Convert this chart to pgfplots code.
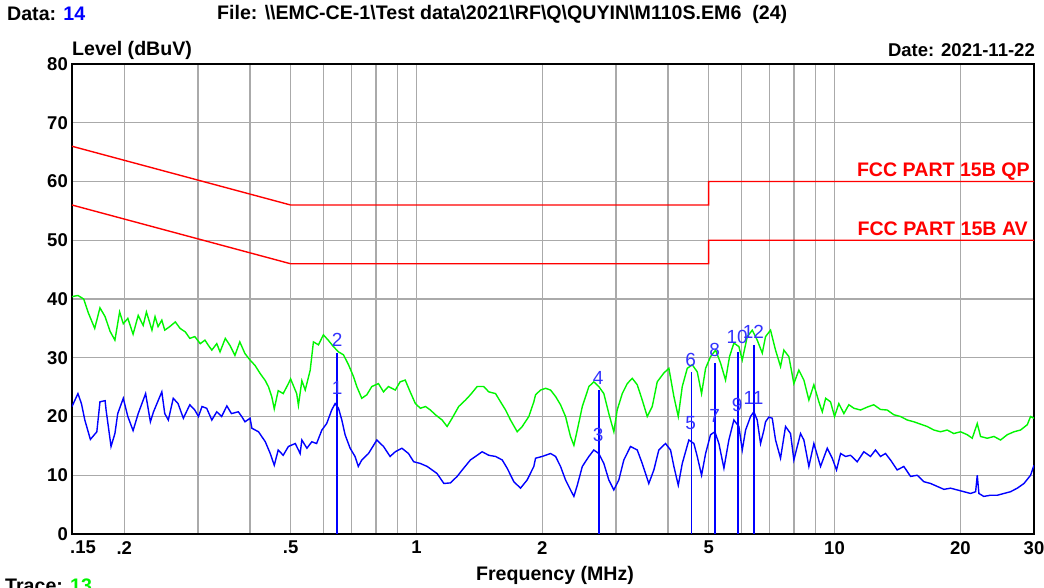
\documentclass[border=0pt]{standalone}
\usepackage{fontspec}
\setmainfont{Liberation Sans}
\usepackage{pgfplots}
\pgfplotsset{compat=1.18}
\definecolor{grn}{RGB}{0,245,0}
\definecolor{blu}{RGB}{0,0,255}
\definecolor{mk}{RGB}{50,50,255}
\definecolor{gridc}{RGB}{170,170,170}
\definecolor{lim}{RGB}{255,0,0}
\newcommand{\hdrfont}{\fontsize{19.6}{21}\selectfont\bfseries}
\newcommand{\tckfont}{\fontsize{18.5}{20}\selectfont\bfseries}

\begin{document}
\begin{tikzpicture}[x=1pt,y=1pt]
\useasboundingbox (-72,-53) rectangle (972,534);
\begin{axis}[
  at={(0,0)}, anchor=south west,
  scale only axis, width=962pt, height=470pt,
  xmode=log, xmin=0.15, xmax=30, ymin=0, ymax=80,
  xtick={0.2,0.5,1,2,5,10,20,30},
  xticklabels={.2,.5,1,2,5,10,20,30},
  extra x ticks={0.15}, extra x tick labels={.15},
  extra x tick style={grid=none, xticklabel style={anchor=north west, xshift=-5pt}},
  minor xtick={0.2,0.3,0.4,0.5,0.6,0.7,0.8,0.9,1,2,3,4,5,6,7,8,9,10,20},
  ytick={0,10,...,80},
  xmajorgrids=false, xminorgrids=true, ymajorgrids=true,
  grid style={gridc, line width=1.4pt},
  minor grid style={gridc, line width=1.4pt},
  major tick length=0pt, minor tick length=0pt,
  axis line style={black, line width=1.8pt},
  /pgf/number format/assume math mode=true,
  ticklabel style={font=\tckfont},
  yticklabel style={inner sep=4pt},
  xticklabel style={inner sep=3pt, yshift=-4pt},
  clip=true,
]
% limit lines
\addplot[lim, line width=1.4pt] coordinates {(0.15,66) (0.5,56) (5,56) (5,60) (30,60)};
\addplot[lim, line width=1.4pt] coordinates {(0.15,56) (0.5,46) (5,46) (5,50) (30,50)};
% QP trace
\addplot[grn, line width=1.4pt] coordinates {
(0.150,40.4)(0.155,40.6)(0.160,40.0)(0.164,37.7)(0.170,35.0)(0.175,38.5)(0.180,37.0)(0.185,34.5)(0.190,33.0)(0.195,37.8)
(0.199,35.8)(0.204,36.7)(0.210,34.0)(0.216,37.2)(0.222,35.5)(0.226,37.8)(0.233,34.7)(0.237,37.0)(0.241,35.3)(0.246,36.4)
(0.250,34.7)(0.257,35.3)(0.265,36.1)(0.272,35.0)(0.280,34.4)(0.287,33.3)(0.295,33.6)(0.304,32.4)(0.312,33.0)(0.318,32.1)
(0.324,31.3)(0.333,32.4)(0.339,31.0)(0.349,33.3)(0.358,32.1)(0.368,30.4)(0.378,32.7)(0.389,30.7)(0.400,29.6)(0.411,28.7)
(0.423,27.3)(0.435,26.1)(0.443,25.0)(0.451,23.3)(0.457,21.3)(0.467,24.4)(0.480,23.9)(0.494,25.6)(0.500,26.4)(0.517,23.9)
(0.522,21.9)(0.532,26.1)(0.542,24.5)(0.557,27.9)(0.567,32.7)(0.583,32.2)(0.599,33.9)(0.615,33.0)(0.633,31.9)(0.651,31.0)
(0.669,30.5)(0.688,28.8)(0.707,26.8)(0.720,25.1)(0.740,23.1)(0.761,23.7)(0.782,25.1)(0.811,25.6)(0.834,24.2)(0.857,25.1)
(0.890,24.5)(0.914,25.9)(0.940,26.2)(0.966,24.2)(0.994,22.2)(1.022,21.4)(1.051,21.7)(1.080,21.1)(1.110,20.3)(1.152,19.4)
(1.184,18.3)(1.217,19.7)(1.262,21.7)(1.310,22.8)(1.346,23.7)(1.397,25.1)(1.449,25.1)(1.489,24.2)(1.546,23.9)(1.589,22.5)
(1.634,21.1)(1.679,19.4)(1.742,17.4)(1.791,18.3)(1.857,20.0)(1.909,22.5)(1.927,23.7)(1.981,24.5)(2.037,24.8)(2.093,24.5)
(2.152,23.4)(2.211,22.0)(2.273,20.0)(2.336,16.6)(2.380,15.1)(2.425,17.7)(2.493,21.7)(2.585,25.1)(2.656,25.9)(2.730,25.1)
(2.807,23.9)(2.885,20.5)(2.966,17.4)(3.021,21.1)(3.107,23.9)(3.193,25.6)(3.282,26.5)(3.374,25.4)(3.468,22.8)(3.565,20.0)
(3.665,21.7)(3.767,25.9)(3.907,27.4)(4.016,28.2)(4.128,23.4)(4.229,20.0)(4.323,25.1)(4.444,28.2)(4.568,28.8)(4.695,27.6)
(4.808,23.9)(4.916,28.2)(5.052,30.2)(5.194,31.3)(5.338,29.1)(5.487,26.2)(5.609,30.2)(5.745,32.5)(5.905,31.9)(6.016,29.6)
(6.184,33.6)(6.357,34.7)(6.533,33.0)(6.717,30.8)(6.839,33.6)(7.030,34.7)(7.227,31.3)(7.428,28.5)(7.567,31.3)(7.776,30.2)
(7.995,25.6)(8.217,27.9)(8.446,26.2)(8.682,22.8)(8.925,25.4)(9.174,22.5)(9.347,20.8)(9.523,23.1)(9.782,22.5)(10.0,20.0)
(10.24,22.2)(10.53,20.5)(10.82,22.0)(11.13,21.4)(11.54,21.1)(11.97,21.6)(12.41,22.0)(12.88,21.2)(13.37,21.1)(13.86,20.3)
(14.38,20.0)(14.93,19.4)(15.48,19.1)(16.06,18.7)(16.66,18.3)(17.28,17.7)(17.93,17.4)(18.60,17.7)(19.29,17.1)(20.02,17.4)
(20.77,16.9)(21.35,16.3)(21.95,18.8)(22.35,16.6)(23.19,16.3)(24.06,16.6)(24.95,16.0)(25.89,16.9)(26.86,17.4)(27.86,17.7)
(28.91,18.6)(29.44,20.0)(30.0,19.7)
};
% AV trace
\addplot[blu, line width=1.4pt] coordinates {
(0.150,21.7)(0.155,23.9)(0.158,22.2)(0.161,19.4)(0.166,16.1)(0.172,17.4)(0.175,22.5)(0.180,22.7)(0.181,21.1)(0.186,14.9)
(0.190,17.1)(0.193,20.5)(0.199,23.1)(0.204,20.0)(0.210,17.6)(0.216,20.5)(0.225,23.9)(0.231,19.1)(0.235,20.8)(0.246,24.2)
(0.250,20.5)(0.255,19.4)(0.262,23.1)(0.269,22.2)(0.277,19.7)(0.287,22.0)(0.295,21.1)(0.301,20.0)(0.307,21.7)(0.315,21.4)
(0.324,19.4)(0.333,20.8)(0.342,20.0)(0.352,21.8)(0.361,20.5)(0.375,20.8)(0.382,20.0)(0.389,19.1)(0.400,19.7)(0.404,18.0)
(0.419,17.4)(0.435,15.7)(0.447,13.7)(0.457,11.7)(0.467,14.3)(0.480,13.4)(0.494,14.9)(0.513,15.4)(0.527,13.7)(0.532,16.0)
(0.547,14.6)(0.562,15.7)(0.577,15.4)(0.594,17.7)(0.610,18.8)(0.627,21.1)(0.639,22.2)(0.651,21.4)(0.663,19.4)(0.675,16.9)
(0.694,14.6)(0.713,13.2)(0.726,11.5)(0.740,12.6)(0.768,13.7)(0.804,16.0)(0.834,14.9)(0.865,13.2)(0.890,14.0)(0.923,14.6)
(0.957,13.7)(0.985,12.3)(1.022,12.0)(1.061,11.5)(1.090,10.9)(1.120,10.3)(1.163,8.6)(1.206,8.7)(1.251,9.8)(1.297,11.2)
(1.346,12.6)(1.397,13.4)(1.436,14.0)(1.489,13.4)(1.546,13.2)(1.604,12.6)(1.648,11.2)(1.710,8.9)(1.774,7.8)(1.840,9.2)
(1.909,11.5)(1.927,12.9)(1.999,13.2)(2.093,13.7)(2.152,13.2)(2.211,11.5)(2.273,9.2)(2.336,7.5)(2.380,6.4)(2.425,8.3)
(2.493,11.5)(2.585,13.2)(2.656,14.3)(2.730,13.7)(2.807,12.0)(2.885,9.2)(2.966,7.5)(3.048,9.2)(3.134,12.6)(3.251,14.9)
(3.374,14.3)(3.468,12.0)(3.596,8.6)(3.697,10.9)(3.800,14.3)(3.942,15.4)(4.053,14.3)(4.128,11.5)(4.229,8.3)(4.323,12.0)
(4.483,16.0)(4.609,15.4)(4.695,13.2)(4.808,10.0)(4.916,13.7)(5.052,16.9)(5.174,17.4)(5.289,15.4)(5.438,11.2)(5.588,16.0)
(5.745,19.4)(5.905,18.3)(6.016,14.3)(6.128,17.7)(6.297,20.0)(6.414,20.8)(6.533,19.4)(6.653,15.4)(6.779,17.7)(6.839,19.1)
(6.965,19.9)(7.097,19.7)(7.227,16.0)(7.428,12.9)(7.636,18.3)(7.849,17.1)(7.995,12.6)(8.293,17.1)(8.446,16.0)(8.682,11.5)
(8.925,15.4)(9.259,11.5)(9.607,14.6)(9.874,12.9)(10.11,10.9)(10.34,13.7)(10.63,13.2)(10.92,13.4)(11.33,12.3)(11.75,14.0)
(12.19,13.2)(12.53,14.3)(12.88,13.2)(13.24,13.7)(13.61,12.6)(14.12,10.9)(14.65,11.5)(15.20,9.8)(15.77,10.0)(16.36,8.9)
(16.97,8.6)(17.61,8.1)(18.27,7.6)(18.95,7.8)(19.66,7.5)(20.39,7.2)(21.16,6.9)(21.75,7.2)(21.95,10.0)(22.15,6.9)
(22.75,6.4)(23.62,6.6)(24.51,6.6)(25.42,6.9)(26.37,7.2)(27.36,7.8)(28.39,8.6)(29.44,10.0)(30.0,11.7)
};
% marker lines
\addplot[blu, line width=1.5pt] coordinates {(0.646,30.8) (0.646,0)};
\addplot[blu, line width=1.5pt] coordinates {(2.73,24.5) (2.73,0)};
\addplot[blu, line width=1.5pt] coordinates {(4.55,27.6) (4.55,0)};
\addplot[blu, line width=1.5pt] coordinates {(5.17,29.1) (5.17,0)};
\addplot[blu, line width=1.5pt] coordinates {(5.87,31.0) (5.87,0)};
\addplot[blu, line width=1.5pt] coordinates {(6.42,32.2) (6.42,0)};
% marker labels
\begin{scope}[every node/.style={text=mk, font=\fontsize{19}{20}\selectfont, inner sep=0pt}]
\node at (axis cs:0.646,33.1) {2};
\node at (axis cs:0.646,24.8) {1};
\node at (axis cs:2.72,26.5) {4};
\node at (axis cs:2.72,16.9) {3};
\node at (axis cs:4.53,29.6) {6};
\node at (axis cs:4.53,18.9) {5};
\node at (axis cs:5.17,31.3) {8};
\node at (axis cs:5.17,20.1) {7};
\node at (axis cs:5.85,33.6) {10};
\node at (axis cs:5.85,22.0) {9};
\node at (axis cs:6.40,34.4) {12};
\node at (axis cs:6.40,23.1) {11};
\end{scope}
\end{axis}
% limit labels
\node[anchor=base east, text=lim, font=\hdrfont, inner sep=0pt] at (958,357) {FCC PART 15B QP};
\node[anchor=base east, text=lim, font=\hdrfont, inner sep=0pt] at (956,298) {FCC PART 15B AV};
% header and footer texts
\node[anchor=west, font=\hdrfont, inner sep=0pt] at (-65,520) {Data: \textcolor{blu}{14}};
\node[anchor=west, font=\hdrfont, inner sep=0pt] at (145,520)
  {File: \textbackslash\textbackslash EMC-CE-1\textbackslash Test data\textbackslash 2021\textbackslash RF\textbackslash Q\textbackslash QUYIN\textbackslash M110S.EM6\ \ (24)};
\node[anchor=west, font=\hdrfont, inner sep=0pt] at (0,484) {Level (dBuV)};
\node[anchor=east, font=\fontsize{18.5}{20}\selectfont\bfseries, inner sep=0pt] at (963,484) {Date: 2021-11-22};
\node[anchor=center, font=\hdrfont, inner sep=0pt] at (483,-41) {Frequency (MHz)};
\node[anchor=west, font=\hdrfont, inner sep=0pt] at (-67,-52) {Trace: \textcolor{grn}{13}};
\end{tikzpicture}
\end{document}
